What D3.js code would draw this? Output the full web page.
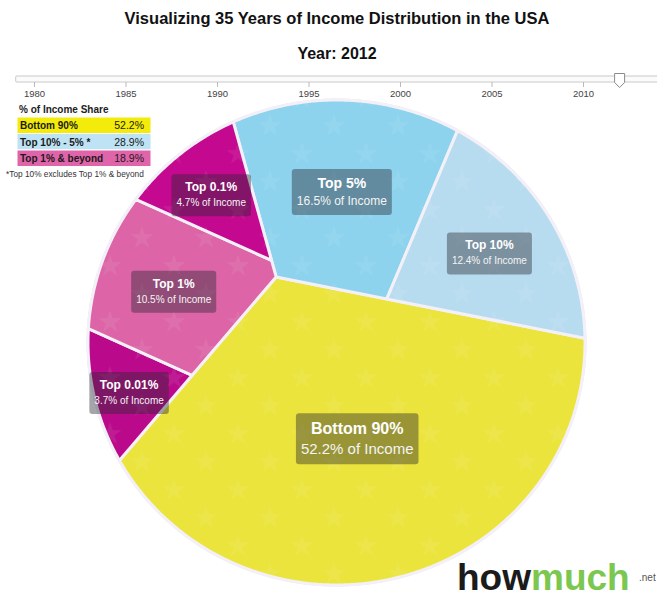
<!DOCTYPE html>
<html>
<head>
<meta charset="utf-8">
<script src="https://cdn.jsdelivr.net/npm/d3@7"></script>
<style>
  body { margin: 0; background: #fff; }
  svg { display: block; font-family: "Liberation Sans", Arial, Helvetica, sans-serif; }
</style>
</head>
<body>
<svg id="chart" width="657" height="597"></svg>
<script>
// ---- data (year 2012) ----
var groupNames = ["Bottom 90%", "Top 10% - 5% *", "Top 1% & beyond"];
var groupShares = [52.2, 28.9, 18.9];
var cellNames = ["Bottom 90%", "Top 5%", "Top 10%", "Top 0.01%", "Top 1%", "Top 0.1%"];
var cellShares = [52.2, 16.5, 12.4, 3.7, 10.5, 4.7];
var cellGroup = [0, 1, 1, 2, 2, 2];
var yearTicks = [1980, 1985, 1990, 1995, 2000, 2005, 2010];
var currentYear = 2012;

var groupColors = ["#f3eb0a", "#bde3f5", "#e064a9"];
var cellColors = ["#ebe43c", "#8dd3ee", "#b7dcef", "#ba0a8b", "#dc64a7", "#c4088f"];

var svg = d3.select("#chart");

// faint star texture used on the cells
var defs = svg.append("defs");
var pat = defs.append("pattern").attr("id", "stars").attr("patternUnits", "userSpaceOnUse")
  .attr("width", 64).attr("height", 56);
var starPath = d3.symbol().type(d3.symbolStar).size(160);
[[14, 14], [46, 42]].forEach(function(p) {
  pat.append("path").attr("d", starPath()).attr("transform", "translate(" + p[0] + "," + p[1] + ")")
    .attr("fill", "#fff").attr("opacity", 0.07);
});

// ---- title ----
svg.append("text").attr("x", 337).attr("y", 24).attr("text-anchor", "middle")
  .style("font-size", "16.5px").style("font-weight", "bold").attr("fill", "#111")
  .text("Visualizing 35 Years of Income Distribution in the USA");
svg.append("text").attr("x", 337).attr("y", 59).attr("text-anchor", "middle")
  .style("font-size", "16px").style("font-weight", "bold").attr("fill", "#111")
  .text("Year: " + currentYear);

// ---- year slider ----
var xYear = d3.scaleLinear().domain([1980, 2010]).range([34, 583]);
svg.append("rect").attr("x", xYear(1979)).attr("y", 76).attr("width", 680).attr("height", 6)
  .attr("fill", "#fbfbfb").attr("stroke", "#c9c9c9").attr("rx", 1);
var axis = svg.append("g").attr("transform", "translate(0,82)")
  .call(d3.axisBottom(xYear).tickValues(yearTicks).tickSize(5).tickFormat(d3.format("d")));
axis.select(".domain").remove();
axis.selectAll("line").attr("stroke", "#bbb");
axis.selectAll("text").attr("fill", "#444").style("font-size", "9.5px")
  .style("font-family", "'Liberation Sans', Arial, sans-serif");
var hx = xYear(currentYear);
svg.append("path")
  .attr("d", "M" + (hx - 5) + ",73.5 h10 v9 l-5,5 l-5,-5 z")
  .attr("fill", "#fff").attr("stroke", "#8a8a8a").attr("stroke-width", 1).attr("stroke-linejoin", "round");

// ---- voronoi-like treemap layout in a unit circle ----
var ring = d3.range(720).map(function(i) {
  var a = i / 720 * 2 * Math.PI;
  return [Math.cos(a), Math.sin(a)];
});

function clip(poly, a, b, c) { // keep a*x + b*y + c >= 0
  var out = [];
  for (var i = 0; i < poly.length; i++) {
    var p = poly[i], q = poly[(i + 1) % poly.length];
    var fp = a * p[0] + b * p[1] + c, fq = a * q[0] + b * q[1] + c;
    if (fp >= 0) out.push(p);
    if ((fp >= 0) != (fq >= 0)) {
      var t = fp / (fp - fq);
      out.push([p[0] + t * (q[0] - p[0]), p[1] + t * (q[1] - p[1])]);
    }
  }
  return out;
}
function area(poly) { return poly.length < 3 ? 0 : Math.abs(d3.polygonArea(poly)); }

// level 1 cells are wedges cut from a hub point; the hub is solved so areas match shares
var groupRays = [[11.5, 129.8], [254.9, 371.5], [129.8, 254.9]];
function wedge(h, f1, f2) {
  var d1 = [Math.cos(f1), Math.sin(f1)], d2 = [Math.cos(f2), Math.sin(f2)];
  var p = clip(ring, -d1[1], d1[0], d1[1] * h[0] - d1[0] * h[1]);
  return clip(p, d2[1], -d2[0], d2[0] * h[1] - d2[1] * h[0]);
}
function groupsAt(h) {
  return groupShares.map(function(s, i) {
    return wedge(h, groupRays[i][0] * Math.PI / 180, groupRays[i][1] * Math.PI / 180);
  });
}
var total = area(ring), shareSum = d3.sum(groupShares);
function resid(h) {
  var g = groupsAt(h);
  return [area(g[0]) / total - groupShares[0] / shareSum, area(g[1]) / total - groupShares[1] / shareSum];
}
var hub = [0, 0];
for (var it = 0; it < 40; it++) {
  var r0 = resid(hub), e = 1e-4;
  var rx = resid([hub[0] + e, hub[1]]), ry = resid([hub[0], hub[1] + e]);
  var j11 = (rx[0] - r0[0]) / e, j12 = (ry[0] - r0[0]) / e;
  var j21 = (rx[1] - r0[1]) / e, j22 = (ry[1] - r0[1]) / e;
  var det = j11 * j22 - j12 * j21;
  if (Math.abs(det) < 1e-12) break;
  var dx = (j22 * r0[0] - j12 * r0[1]) / det, dy = (-j21 * r0[0] + j11 * r0[1]) / det;
  var len = Math.sqrt(dx * dx + dy * dy);
  if (len > 0.2) { dx *= 0.2 / len; dy *= 0.2 / len; }
  hub = [hub[0] - dx, hub[1] - dy];
}
var groupPolys = groupsAt(hub);

// level 2: parallel slices inside each group
var splitDeg = [null, -67.7, 204.7];
function band(poly, n, lo, hi) {
  var p = poly;
  if (lo != null) p = clip(p, n[0], n[1], -lo);
  if (hi != null) p = clip(p, -n[0], -n[1], hi);
  return p;
}
function slice(poly, angDeg, shares) {
  if (shares.length == 1) return [poly];
  var a = angDeg * Math.PI / 180, n = [-Math.sin(a), Math.cos(a)];
  var proj = poly.map(function(p) { return n[0] * p[0] + n[1] * p[1]; });
  var lo = d3.min(proj), hi = d3.max(proj), tot = area(poly), sum = d3.sum(shares);
  var cuts = [null], acc = 0;
  for (var i = 0; i < shares.length - 1; i++) {
    acc += shares[i];
    var a0 = lo, a1 = hi;
    for (var k = 0; k < 50; k++) {
      var m = (a0 + a1) / 2;
      if (area(band(poly, n, null, m)) < tot * acc / sum) a0 = m; else a1 = m;
    }
    cuts.push((a0 + a1) / 2);
  }
  cuts.push(null);
  return shares.map(function(s, i) { return band(poly, n, cuts[i], cuts[i + 1]); });
}

var cells = [];
groupPolys.forEach(function(gp, g) {
  var idx = d3.range(cellNames.length).filter(function(i) { return cellGroup[i] == g; });
  var parts = slice(gp, splitDeg[g], idx.map(function(i) { return cellShares[i]; }));
  idx.forEach(function(i, k) { cells.push({ i: i, poly: parts[k] }); });
});

// ---- projection to the page ----
var x = d3.scaleLinear().domain([-1, 1]).range([88, 585]);
var y = d3.scaleLinear().domain([-1, 1]).range([100, 585]);
var line = d3.line().x(function(p) { return x(p[0]); }).y(function(p) { return y(p[1]); })
  .curve(d3.curveLinearClosed);

var pie = svg.append("g");
pie.append("ellipse").attr("cx", x(0)).attr("cy", y(0))
  .attr("rx", x(1) - x(0) + 1.5).attr("ry", y(1) - y(0) + 1.5).attr("fill", "#e7def0");
var cellG = pie.selectAll("g.cell").data(cells).enter().append("g").attr("class", "cell");
cellG.append("path")
  .attr("d", function(d) { return line(d.poly); })
  .attr("fill", function(d) { return cellColors[d.i]; });
cellG.append("path")
  .attr("d", function(d) { return line(d.poly); })
  .attr("fill", "url(#stars)")
  .attr("stroke", "#f4f0f8").attr("stroke-width", 3).attr("stroke-linejoin", "round");

// labels
pie.selectAll("g.lab").data(cells).enter().append("g").attr("class", "lab")
  .each(function(d) {
    var c = d3.polygonCentroid(d.poly.map(function(p) { return [x(p[0]), y(p[1])]; }));
    var s = cellShares[d.i];
    var ts = s > 40 ? 16 : s > 15 ? 14 : 12;
    var ss = s > 40 ? 15 : s > 15 ? 12 : 10;
    var g = d3.select(this);
    var box = g.append("rect").attr("fill", "rgba(40,40,50,0.42)").attr("rx", 3);
    var t1 = g.append("text").attr("text-anchor", "middle").attr("fill", "#fff")
      .style("font-weight", "bold").style("font-size", ts + "px").text(cellNames[d.i]);
    var t2 = g.append("text").attr("text-anchor", "middle").attr("fill", "#f4f4f4")
      .style("font-size", ss + "px").text(d3.format(".1f")(s) + "% of Income");
    var w = Math.max(t1.node().getComputedTextLength(), t2.node().getComputedTextLength()) + 10;
    var h = ts + ss + 20;
    var top = c[1] + 4 - h / 2;
    box.attr("x", c[0] - w / 2).attr("y", top).attr("width", w).attr("height", h);
    t1.attr("x", c[0]).attr("y", top + 5 + ts);
    t2.attr("x", c[0]).attr("y", top + 10 + ts + ss);
  });

// ---- legend ----
var lg = svg.append("g");
lg.append("text").attr("x", 19).attr("y", 113).style("font-size", "10px").style("font-weight", "bold")
  .attr("fill", "#222").text("% of Income Share");
var rowH = 16.5;
groupNames.forEach(function(n, i) {
  var ry0 = 117 + i * rowH;
  lg.append("rect").attr("x", 17).attr("y", ry0).attr("width", 134).attr("height", rowH)
    .attr("fill", groupColors[i]).attr("stroke", "#fff").attr("stroke-width", 1);
  lg.append("text").attr("x", 20).attr("y", ry0 + 12).style("font-size", "10px").style("font-weight", "bold")
    .attr("fill", "#1a1a1a").text(n);
  lg.append("text").attr("x", 144).attr("y", ry0 + 12).attr("text-anchor", "end").style("font-size", "10.5px")
    .attr("fill", "#1a1a1a").text(d3.format(".1f")(groupShares[i]) + "%");
});
lg.append("text").attr("x", 6).attr("y", 177).style("font-size", "8.3px").attr("fill", "#333")
  .text("*Top 10% excludes Top 1% & beyond");

// ---- logo ----
var logo = svg.append("text").attr("x", 457).attr("y", 590).style("font-size", "37px").style("font-weight", "bold");
logo.append("tspan").attr("fill", "#1b1b1b").text("how");
logo.append("tspan").attr("fill", "#7cc750").text("much");
svg.append("text").attr("x", 639).attr("y", 581).style("font-size", "10px").attr("fill", "#555").text(".net");
</script>
</body>
</html>
